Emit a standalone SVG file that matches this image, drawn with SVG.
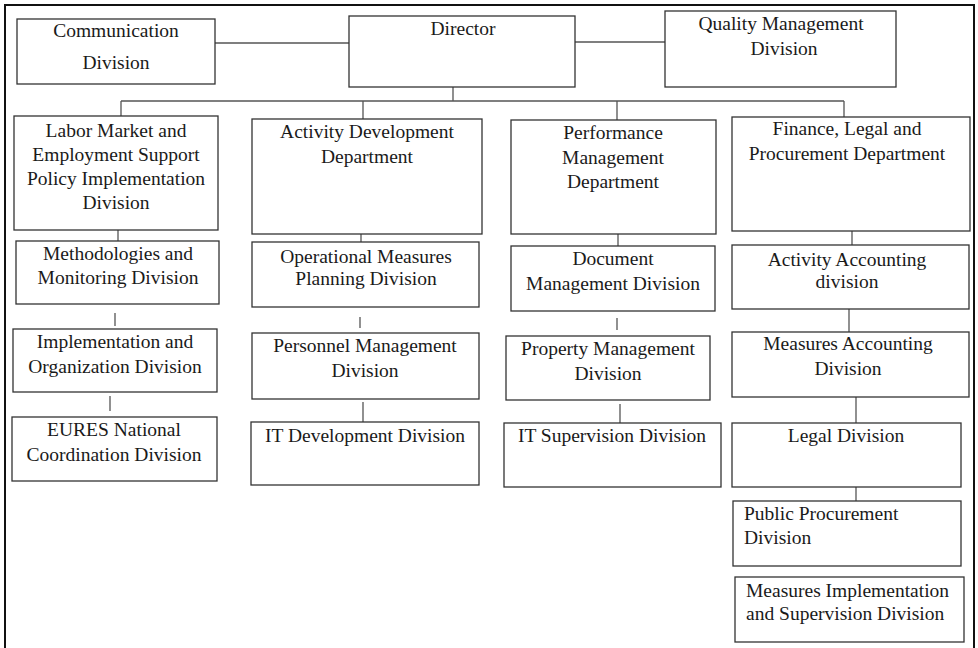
<svg xmlns="http://www.w3.org/2000/svg" width="978" height="648" viewBox="0 0 978 648">
<style>
.bx{fill:#fff;stroke:#333;stroke-width:1.3}
.t{font-family:"Liberation Serif","Times New Roman",serif;font-size:19.5px;fill:#1a1a1a;text-anchor:middle}
.tl{text-anchor:start}
.c{stroke:#555;stroke-width:1.3;fill:none}
.frame{fill:none;stroke:#111;stroke-width:2}
</style>
<rect width="978" height="648" fill="#fff"/>
<path class="frame" d="M5,650 V5 H974 V650"/>
<g id="connectors">
<line class="c" x1="215" y1="43" x2="349" y2="43"/>
<line class="c" x1="575" y1="42" x2="665" y2="42"/>
<path class="c" d="M453,87 V101 M121,101 H844 M121,101 V116 M363,101 V119 M617,101 V120 M844,101 V117"/>
<line class="c" x1="118" y1="230" x2="118" y2="241"/>
<line class="c" x1="115" y1="313" x2="115" y2="326"/>
<line class="c" x1="110" y1="396" x2="110" y2="411"/>
<line class="c" x1="361" y1="234" x2="361" y2="242"/>
<line class="c" x1="360" y1="317" x2="360" y2="328"/>
<line class="c" x1="363" y1="402" x2="363" y2="422"/>
<line class="c" x1="618" y1="234" x2="618" y2="246"/>
<line class="c" x1="617" y1="318" x2="617" y2="330"/>
<line class="c" x1="620" y1="404" x2="620" y2="423"/>
<line class="c" x1="852" y1="231" x2="852" y2="245"/>
<line class="c" x1="849" y1="309" x2="849" y2="332"/>
<line class="c" x1="856" y1="397" x2="856" y2="423"/>
<line class="c" x1="856" y1="487" x2="856" y2="501"/>
</g>
<g id="communication">
<rect class="bx" x="17" y="19" width="198" height="65"/>
<text class="t" x="116" y="37">Communication</text>
<text class="t" x="116" y="69">Division</text>
</g>
<g id="director">
<rect class="bx" x="349" y="16" width="226" height="71"/>
<text class="t" x="463" y="35">Director</text>
</g>
<g id="quality">
<rect class="bx" x="665" y="11" width="231" height="76"/>
<text class="t" x="781" y="30">Quality Management</text>
<text class="t" x="784" y="55">Division</text>
</g>
<g id="labor">
<rect class="bx" x="14" y="116" width="204" height="114"/>
<text class="t" x="116" y="137">Labor Market and</text>
<text class="t" x="116" y="161">Employment Support</text>
<text class="t" x="116" y="185">Policy Implementation</text>
<text class="t" x="116" y="209">Division</text>
</g>
<g id="methodologies">
<rect class="bx" x="16" y="241" width="203" height="63"/>
<text class="t" x="118" y="260">Methodologies and</text>
<text class="t" x="118" y="284">Monitoring Division</text>
</g>
<g id="implementation">
<rect class="bx" x="13" y="329" width="204" height="63"/>
<text class="t" x="115" y="348">Implementation and</text>
<text class="t" x="115" y="373">Organization Division</text>
</g>
<g id="eures">
<rect class="bx" x="12" y="417" width="205" height="64"/>
<text class="t" x="114" y="436">EURES National</text>
<text class="t" x="114" y="461">Coordination Division</text>
</g>
<g id="activity-dev">
<rect class="bx" x="252" y="119" width="230" height="115"/>
<text class="t" x="367" y="138">Activity Development</text>
<text class="t" x="367" y="163">Department</text>
</g>
<g id="operational">
<rect class="bx" x="252" y="242" width="227" height="65"/>
<text class="t" x="366" y="263">Operational Measures</text>
<text class="t" x="366" y="285">Planning Division</text>
</g>
<g id="personnel">
<rect class="bx" x="252" y="333" width="227" height="66"/>
<text class="t" x="365" y="352">Personnel Management</text>
<text class="t" x="365" y="377">Division</text>
</g>
<g id="it-dev">
<rect class="bx" x="251" y="422" width="228" height="63"/>
<text class="t" x="365" y="442">IT Development Division</text>
</g>
<g id="performance">
<rect class="bx" x="511" y="120" width="205" height="114"/>
<text class="t" x="613" y="139">Performance</text>
<text class="t" x="613" y="164">Management</text>
<text class="t" x="613" y="188">Department</text>
</g>
<g id="document">
<rect class="bx" x="511" y="246" width="204" height="65"/>
<text class="t" x="613" y="265">Document</text>
<text class="t" x="613" y="290">Management Division</text>
</g>
<g id="property">
<rect class="bx" x="506" y="336" width="204" height="64"/>
<text class="t" x="608" y="355">Property Management</text>
<text class="t" x="608" y="380">Division</text>
</g>
<g id="it-supervision">
<rect class="bx" x="504" y="423" width="217" height="64"/>
<text class="t" x="612" y="442">IT Supervision Division</text>
</g>
<g id="finance">
<rect class="bx" x="732" y="117" width="238" height="114"/>
<text class="t" x="847" y="135">Finance, Legal and</text>
<text class="t" x="847" y="160">Procurement Department</text>
</g>
<g id="activity-accounting">
<rect class="bx" x="732" y="245" width="237" height="64"/>
<text class="t" x="847" y="266">Activity Accounting</text>
<text class="t" x="847" y="288">division</text>
</g>
<g id="measures-accounting">
<rect class="bx" x="732" y="332" width="237" height="65"/>
<text class="t" x="848" y="350">Measures Accounting</text>
<text class="t" x="848" y="375">Division</text>
</g>
<g id="legal">
<rect class="bx" x="732" y="423" width="229" height="64"/>
<text class="t" x="846" y="442">Legal Division</text>
</g>
<g id="public-procurement">
<rect class="bx" x="733" y="501" width="228" height="65"/>
<text class="t tl" x="744" y="520">Public Procurement</text>
<text class="t tl" x="744" y="544">Division</text>
</g>
<g id="measures-implementation">
<rect class="bx" x="735" y="577" width="229" height="65"/>
<text class="t tl" x="746" y="597">Measures Implementation</text>
<text class="t tl" x="746" y="620">and Supervision Division</text>
</g>
</svg>
